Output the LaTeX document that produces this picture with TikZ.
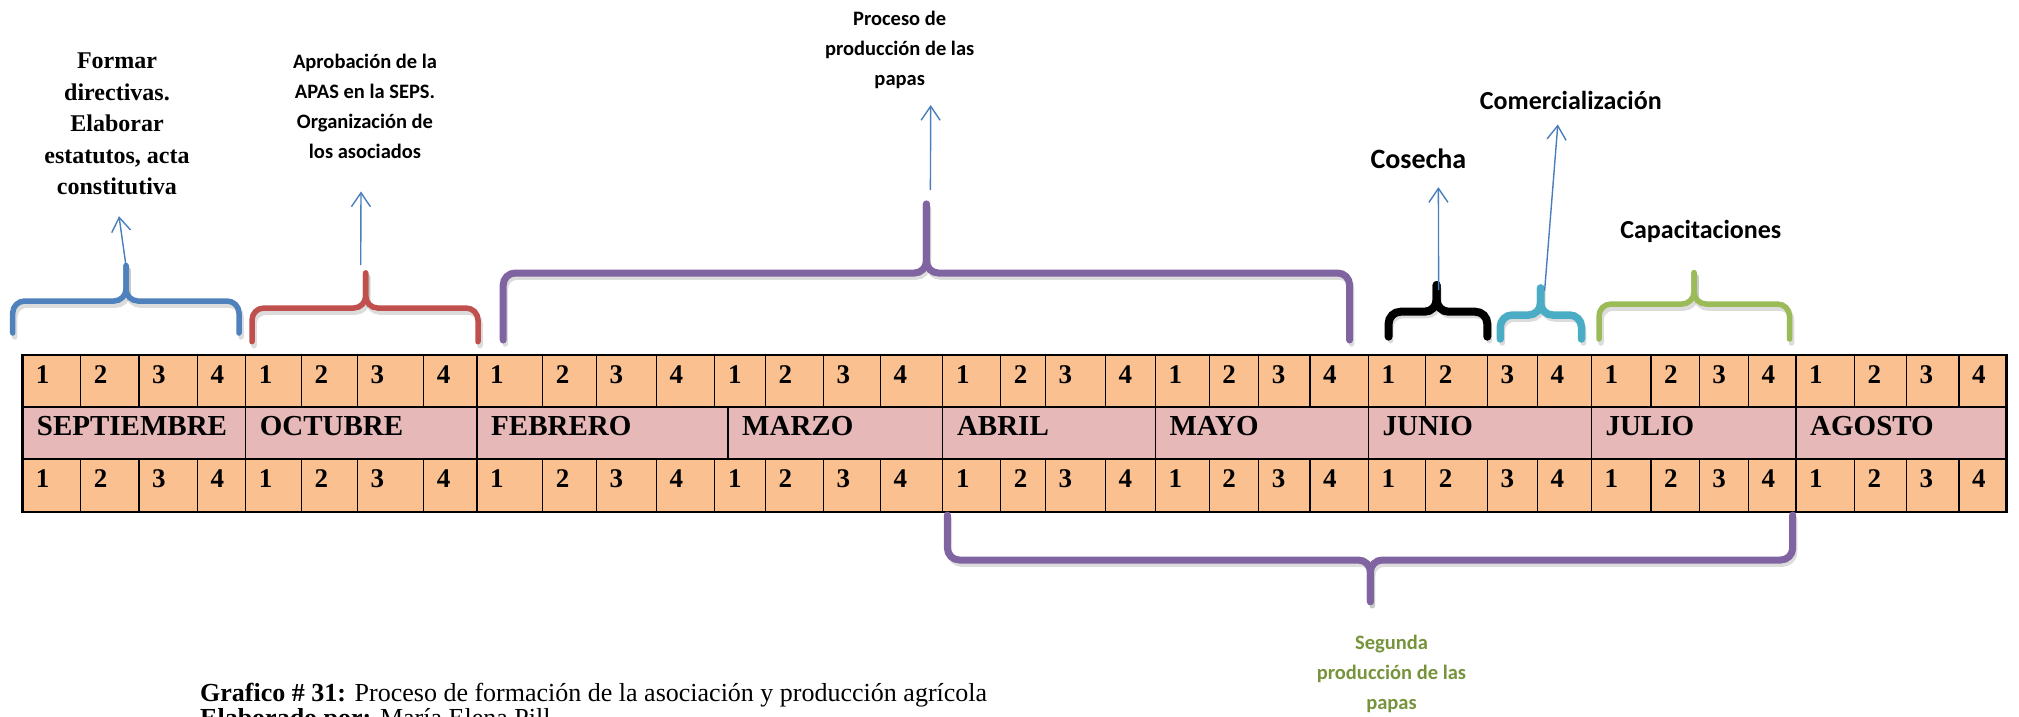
\documentclass[tikz,border=0pt]{standalone}
\usepackage{fontspec}
\setmainfont{Liberation Serif}
\newfontfamily\calibri{Carlito}
\usetikzlibrary{arrows.meta,calc}

\definecolor{weekorange}{HTML}{FAC090}
\definecolor{monthpink}{HTML}{E6B9B8}
\definecolor{bracketblue}{HTML}{4F81BD}
\definecolor{bracketred}{HTML}{C0504D}
\definecolor{bracketpurple}{HTML}{8064A2}
\definecolor{bracketgreen}{HTML}{9BBB59}
\definecolor{bracketcyan}{HTML}{4BACC6}
\definecolor{arrowblue}{HTML}{4A7EBB}
\definecolor{labelgreen}{HTML}{77933C}

\tikzset{
  cellnum/.style={anchor=base west, inner sep=0pt, font=\fontsize{27}{27}\selectfont\bfseries},
  monthname/.style={anchor=base west, inner sep=0pt, font=\fontsize{29}{29}\selectfont\bfseries},
  gridline/.style={line width=1.2pt},
  frame/.style={line width=2.5pt},
  pointer/.style={arrowblue, line width=1.4pt, -{Straight Barb[length=14pt,width=19pt,line width=1.4pt]}},
  seriflabel/.style={align=center, inner sep=0pt, font=\fontsize{24}{31.5}\selectfont\bfseries},
  sanslabel/.style={align=center, inner sep=0pt, font=\calibri\bfseries\fontsize{20.5}{30}\selectfont},
  titlelabel/.style={inner sep=0pt, font=\calibri\bfseries\fontsize{#1}{#1}\selectfont},
  caption/.style={anchor=base west, inner sep=0pt, font=\fontsize{26}{26}\selectfont},
  braceline/.style={line width=5.5pt, rounded corners=12pt, line cap=round},
  braceshadow/.style={black!30, opacity=0.45, shift={(2,4)}}
}

% brace: name, style, x left, x right, x tip, y legs, y bar, y tip
\newcommand{\spanbrace}[8]{%
  \draw[braceline, braceshadow] (#3,#6) |- (#5,#7) -- (#5,#8);
  \draw[braceline, braceshadow] (#4,#6) |- (#5,#7) -- (#5,#8);
  \draw[braceline, #2] (#3,#6) |- (#5,#7) -- (#5,#8);
  \draw[braceline, #2] (#4,#6) |- (#5,#7) -- (#5,#8);
  \coordinate (#1) at (#5,#8);
}

\begin{document}
\begin{tikzpicture}[x=1pt, y=-1pt]
  \useasboundingbox (0,0) rectangle (2019,716);

  % Table rows
  \fill[weekorange] (22.7,355) rectangle (2006.5,407);
  \fill[monthpink] (22.7,407) rectangle (2006.5,459);
  \fill[weekorange] (22.7,459) rectangle (2006.5,512);

  % Weeks
  \foreach \x [count=\i, remember=\x as \xp (initially 22.7)] in
    {80.6,139,197.5,245.6,301.5,357.4,423.7,477,542.6,596.5,656.3,714.8,
     765.4,823.3,880.4,942.8,1000.6,1045.5,1105.3,1155.3,1209.2,1258.6,1310,1368.4,
     1425.6,1487.3,1537.4,1591.3,1651,1699.2,1748.5,1796,1854.5,1906.4,1959,2006.5}{
    \pgfmathtruncatemacro{\wk}{mod(\i-1,4)+1}
    \draw[gridline] (\x,355) -- (\x,407) (\x,459) -- (\x,512);
    \node[cellnum] (wa\i) at (\xp+13,383) {\wk};
    \node[cellnum] (wb\i) at (\xp+13,487) {\wk};
  }

  % Months
  \foreach \xa/\xb/\mes [count=\j] in {22.7/245.6/SEPTIEMBRE, 245.6/477/OCTUBRE,
      477/728/FEBRERO, 728/942.8/MARZO, 942.8/1155.3/ABRIL, 1155.3/1368.4/MAYO,
      1368.4/1591.3/JUNIO, 1591.3/1796/JULIO, 1796/2006.5/AGOSTO}{
    \draw[gridline] (\xb,407) -- (\xb,459);
    \node[monthname] (mes\j) at (\xa+14,435) {\mes};
  }
  \draw[gridline] (22.7,407) -- (2006.5,407) (22.7,459) -- (2006.5,459);
  \draw[frame] (22.7,355) rectangle (2006.5,512);

  % Braces
  \spanbrace{brBlue}{bracketblue}{12.7}{239}{126}{333}{301}{265.7}
  \spanbrace{brRed}{bracketred}{252}{478}{365.7}{341.7}{308}{273}
  \spanbrace{brPurple}{bracketpurple, line width=7pt}{503.2}{1349.6}{926.4}{340}{273}{204}
  \spanbrace{brBlack}{black, line width=8pt}{1388.6}{1487.3}{1436.6}{336.7}{311.7}{285}
  \spanbrace{brCyan}{bracketcyan, line width=7.5pt}{1500.3}{1581.5}{1540.6}{339}{315}{288}
  \spanbrace{brGreen}{bracketgreen}{1599}{1789.5}{1694}{339}{304}{272.7}
  \spanbrace{brSecond}{bracketpurple, line width=7pt}{947.4}{1792.7}{1370.4}{515}{560}{601.7}

  % Labels
  \node[seriflabel] (formar) at (117,124) {Formar\\directivas.\\Elaborar\\estatutos, acta\\constitutiva};
  \node[sanslabel] (aprob) at (365,106) {Aprobación de la\\APAS en la SEPS.\\Organización de\\los asociados};
  \node[sanslabel] (proceso) at (899.7,50) {Proceso de\\producción de las\\papas};
  \node[sanslabel, labelgreen] (segunda) at (1391.5,674) {Segunda\\producción de las\\papas};
  \node[titlelabel=28] (cosecha) at (1418.4,159) {Cosecha};
  \node[titlelabel=26] (comercial) at (1570.8,100) {Comercialización};
  \node[titlelabel=26] (capacit) at (1700.8,231) {Capacitaciones};

  % Pointers
  \draw[pointer] (brBlue) -- ($(formar.south)+(2,21)$);
  \draw[pointer] ($(brRed)+(-5,-8)$) -- ($(aprob.south)+(-4,33)$);
  \draw[pointer] ($(brPurple)+(4,-14)$) -- ($(proceso.south)+(31,16)$);
  \draw[pointer] ($(brBlack)+(2,5)$) -- ($(cosecha.south)+(20,18)$);
  \draw[pointer] ($(brCyan)+(4,3)$) -- ($(comercial.south)+(-13,15)$);

  % Caption
  \node[caption] (grafico) at (200,701) {\textbf{Grafico \# 31:} Proceso de formación de la asociación y producción agrícola};
  \node[caption] (elab) at (200,726) {\textbf{Elaborado por:} María Elena Pill};
\end{tikzpicture}
\end{document}
